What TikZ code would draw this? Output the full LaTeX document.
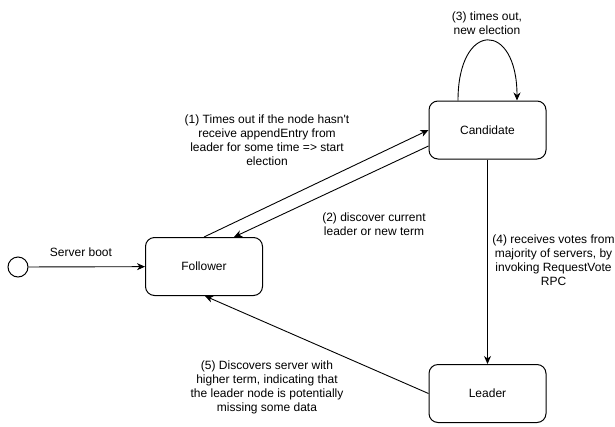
\documentclass[tikz,border=0pt]{standalone}
\usepackage{fontspec}
\setmainfont{Liberation Sans}
\usetikzlibrary{arrows.meta}
\begin{document}
\begin{tikzpicture}[x=1pt,y=-1pt,
  state/.style={draw,line width=1pt,rounded corners=9pt,minimum width=117pt,minimum height=58pt,inner sep=0pt,font=\fontsize{12}{14}\selectfont},
  lbl/.style={align=center,inner sep=0pt,font=\fontsize{12}{14}\selectfont},
  conn/.style={draw,line width=0.9pt,-{Stealth[length=8pt,width=7pt,inset=2.5pt]}}]
\useasboundingbox (0,0) rectangle (615,426);
\node[draw,circle,line width=1pt,minimum size=20pt,inner sep=0pt] (start) at (18,267) {};
\node[state] (fol) at (204,266.5) {Follower};
\node[state] (cand) at (487.5,130) {Candidate};
\node[state] (lead) at (487.5,393.5) {Leader};

\node[lbl] (lboot) at (81,252) {Server boot};
\node[lbl] (l1) at (267,140) {(1) Times out if the node hasn\textquotesingle t\\receive appendEntry from\\leader for some time => start\\election};
\node[lbl] (l2) at (374,224) {(2) discover current\\leader or new term};
\node[lbl] (l3) at (487,23) {(3) times out,\\new election};
\node[lbl] (l4) at (553.5,260) {(4) receives votes from\\majority of servers, by\\invoking RequestVote\\RPC};
\node[lbl] (l5) at (267,387) {(5) Discovers server with\\higher term, indicating that\\the leader node is potentially\\missing some data};

\draw[conn] (start) -- (fol);
\draw[conn] (fol.north) -- (cand.west);
\draw[conn] ([yshift=-16pt]cand.west) -- ([xshift=30pt]fol.north);
\draw[conn] ([xshift=-29.5pt]cand.north) .. controls +(0,-80) and +(0,-80) .. ([xshift=29.5pt]cand.north);
\draw[conn] (cand.south) -- (lead.north);
\draw[conn] (lead.west) -- ([xshift=1pt]fol.south);
\end{tikzpicture}
\end{document}
